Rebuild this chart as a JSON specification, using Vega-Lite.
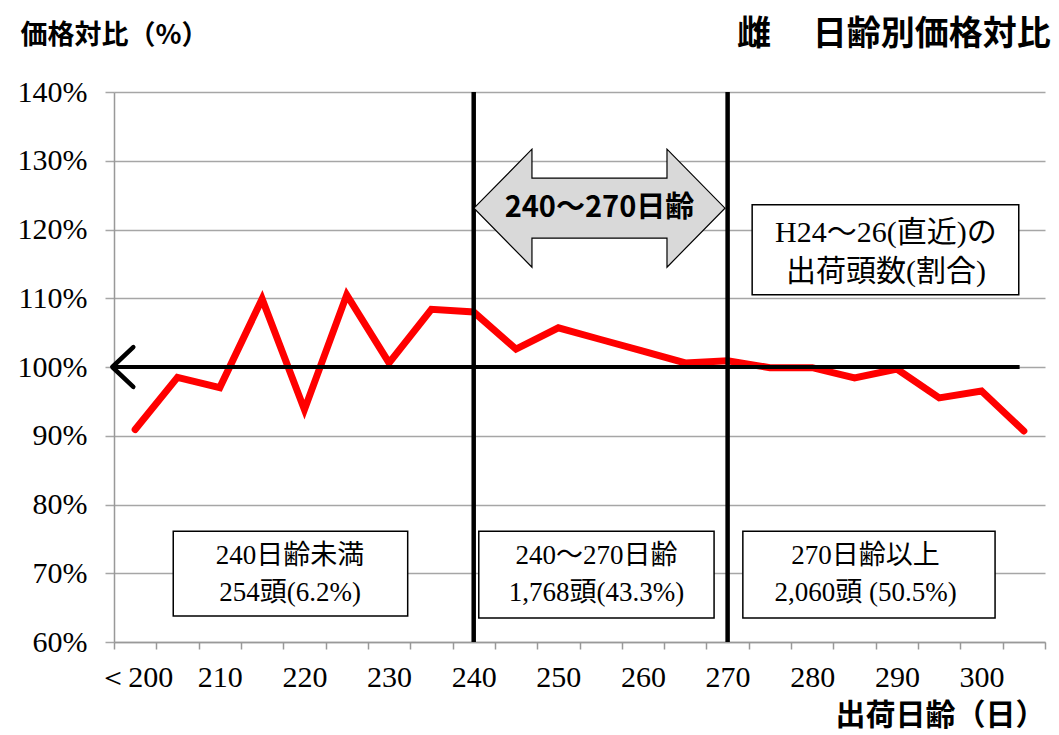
{
  "$schema": "https://vega.github.io/schema/vega-lite/v6.json",
  "width": 931,
  "height": 550,
  "autosize": {"type": "none"},
  "padding": {"left": 114, "top": 92, "right": 14, "bottom": 93},
  "background": "white",
  "title": {"text": "雌　 日齢別価格対比", "anchor": "end", "font": "Noto Sans CJK JP", "fontSize": 34, "fontWeight": "bold", "color": "black", "offset": -31, "dx": 5},
  "config": {"view": {"stroke": null}},
  "datasets": {
    "price": [
      {"day": 200, "pct": 90.9}, {"day": 205, "pct": 98.5}, {"day": 210, "pct": 97.0},
      {"day": 215, "pct": 109.9}, {"day": 220, "pct": 93.8}, {"day": 225, "pct": 110.5},
      {"day": 230, "pct": 100.6}, {"day": 235, "pct": 108.4}, {"day": 240, "pct": 108.0},
      {"day": 245, "pct": 102.6}, {"day": 250, "pct": 105.7}, {"day": 255, "pct": 104.0},
      {"day": 260, "pct": 102.3}, {"day": 265, "pct": 100.6}, {"day": 270, "pct": 100.9},
      {"day": 275, "pct": 99.9}, {"day": 280, "pct": 99.9}, {"day": 285, "pct": 98.4},
      {"day": 290, "pct": 99.7}, {"day": 295, "pct": 95.5}, {"day": 300, "pct": 96.5},
      {"day": 305, "pct": 90.7}
    ],
    "bounds": [{"day": 240}, {"day": 270}],
    "baseline": [{"start": 197.3, "end": 304.5, "pct": 100}],
    "boxes": [
      {"x1": 204.5, "x2": 232.2, "y1": 76.1, "y2": 63.8},
      {"x1": 240.6, "x2": 268.4, "y1": 76.1, "y2": 63.5},
      {"x1": 271.8, "x2": 301.6, "y1": 76.1, "y2": 63.5},
      {"x1": 272.9, "x2": 304.4, "y1": 123.6, "y2": 110.5}
    ],
    "boxtext": [
      {"x": 218.3, "y": 72.5, "t": "240日齢未満"},
      {"x": 218.3, "y": 67.1, "t": "254頭(6.2%)"},
      {"x": 254.5, "y": 72.5, "t": "240～270日齢"},
      {"x": 254.5, "y": 67.1, "t": "1,768頭(43.3%)"},
      {"x": 286.3, "y": 72.5, "t": "270日齢以上"},
      {"x": 286.3, "y": 67.1, "t": "2,060頭 (50.5%)"}
    ],
    "notetext": [
      {"x": 288.7, "y": 119.5, "t": "H24～26(直近)の"},
      {"x": 288.7, "y": 113.8, "t": "出荷頭数(割合)"}
    ],
    "range": [{"x": 254.86, "y": 123.1, "t": "240～270日齢"}]
  },
  "layer": [
    {
      "data": {"name": "price"},
      "mark": {"type": "line", "color": "#ff0000", "strokeWidth": 7, "strokeJoin": "miter", "strokeCap": "round"},
      "encoding": {
        "x": {"field": "day", "type": "quantitative",
          "scale": {"domain": [197.5, 307.5], "nice": false, "zero": false},
          "axis": {"values": [197.5, 202.5, 207.5, 212.5, 217.5, 222.5, 227.5, 232.5, 237.5, 242.5, 247.5, 252.5, 257.5, 262.5, 267.5, 272.5, 277.5, 282.5, 287.5, 292.5, 297.5, 302.5, 307.5],
            "labels": false, "ticks": true, "tickSize": 7, "tickColor": "#999999", "tickWidth": 1.5,
            "domain": true, "domainColor": "#999999", "domainWidth": 1.5, "grid": false, "title": null, "orient": "bottom"}},
        "y": {"field": "pct", "type": "quantitative",
          "scale": {"domain": [60, 140], "nice": false, "zero": false},
          "axis": {"values": [60, 70, 80, 90, 100, 110, 120, 130, 140],
            "labelExpr": "datum.value + '%'", "labelFont": "Liberation Serif", "labelFontSize": 30, "labelColor": "black",
            "labelPadding": 18, "tickSize": 9, "tickColor": "#a6a6a6", "tickWidth": 1.5,
            "domainColor": "#999999", "domainWidth": 1.5, "grid": true, "gridColor": "#a6a6a6", "gridWidth": 1.5,
            "labelOverlap": false,
            "title": "価格対比（%）", "titleAngle": 0, "titleX": -94, "titleY": -57, "titleAlign": "left", "titleBaseline": "middle",
            "titleFont": "Noto Sans CJK JP", "titleFontSize": 27, "titleFontWeight": "bold", "titleColor": "black"}}
      }
    },
    {
      "data": {"name": "bounds"},
      "mark": {"type": "rule", "color": "black", "strokeWidth": 4.5},
      "encoding": {
        "x": {"field": "day", "type": "quantitative",
          "axis": {"values": [200, 210, 220, 230, 240, 250, 260, 270, 280, 290, 300],
            "labelExpr": "datum.value == 200 ? '＜200' : datum.label", "labelFont": "Liberation Serif", "labelFontSize": 30,
            "labelColor": "black", "labelPadding": 20, "labelFlush": false, "labelOverlap": false,
            "ticks": false, "domain": false, "grid": false, "orient": "bottom",
            "title": "出荷日齢（日）", "titleAnchor": "end", "titleFont": "Noto Sans CJK JP", "titleFontSize": 30,
            "titleFontWeight": "bold", "titleColor": "black", "titlePadding": 8}}
      }
    },
    {
      "data": {"name": "baseline"},
      "mark": {"type": "rule", "color": "black", "strokeWidth": 4},
      "encoding": {
        "x": {"field": "start", "type": "quantitative", "axis": null},
        "x2": {"field": "end"},
        "y": {"field": "pct", "type": "quantitative", "title": "価格対比（%）"}
      }
    },
    {
      "data": {"name": "baseline"},
      "mark": {"type": "point", "shape": "M 1 -0.95 L 0 0 L 1 0.95", "size": 1764, "filled": false, "stroke": "black", "strokeWidth": 4.5, "strokeCap": "round", "strokeJoin": "round", "opacity": 1},
      "encoding": {
        "x": {"field": "start", "type": "quantitative", "axis": null},
        "y": {"field": "pct", "type": "quantitative", "title": "価格対比（%）"}
      }
    },
    {
      "data": {"name": "boxes"},
      "mark": {"type": "rect", "fill": "white", "stroke": "black", "strokeWidth": 1.5},
      "encoding": {
        "x": {"field": "x1", "type": "quantitative", "axis": null},
        "x2": {"field": "x2"},
        "y": {"field": "y1", "type": "quantitative", "title": "価格対比（%）"},
        "y2": {"field": "y2"}
      }
    },
    {
      "data": {"name": "boxtext"},
      "mark": {"type": "text", "font": "Liberation Serif, Noto Sans CJK JP", "fontSize": 27, "color": "black", "align": "center", "baseline": "middle"},
      "encoding": {
        "x": {"field": "x", "type": "quantitative", "axis": null},
        "y": {"field": "y", "type": "quantitative", "title": "価格対比（%）"},
        "text": {"field": "t"}
      }
    },
    {
      "data": {"name": "notetext"},
      "mark": {"type": "text", "font": "Liberation Serif, Noto Sans CJK JP", "fontSize": 30, "color": "black", "align": "center", "baseline": "middle"},
      "encoding": {
        "x": {"field": "x", "type": "quantitative", "axis": null},
        "y": {"field": "y", "type": "quantitative", "title": "価格対比（%）"},
        "text": {"field": "t"}
      }
    },
    {
      "data": {"name": "range"},
      "mark": {"type": "point", "shape": "M -1 0 L -0.538 -0.47 L -0.538 -0.239 L 0.538 -0.239 L 0.538 -0.47 L 1 0 L 0.538 0.47 L 0.538 0.239 L -0.538 0.239 L -0.538 0.47 Z", "size": 63001, "filled": true, "fill": "#d9d9d9", "stroke": "black", "strokeWidth": 1.2, "opacity": 1},
      "encoding": {
        "x": {"field": "x", "type": "quantitative", "axis": null},
        "y": {"field": "y", "type": "quantitative", "title": "価格対比（%）"}
      }
    },
    {
      "data": {"name": "range"},
      "mark": {"type": "text", "font": "Noto Sans CJK JP", "fontSize": 29, "fontWeight": "bold", "color": "black", "align": "center", "baseline": "middle"},
      "encoding": {
        "x": {"field": "x", "type": "quantitative", "axis": null},
        "y": {"field": "y", "type": "quantitative", "title": "価格対比（%）"},
        "text": {"field": "t"}
      }
    }
  ],
  "resolve": {"axis": {"x": "independent"}}
}
